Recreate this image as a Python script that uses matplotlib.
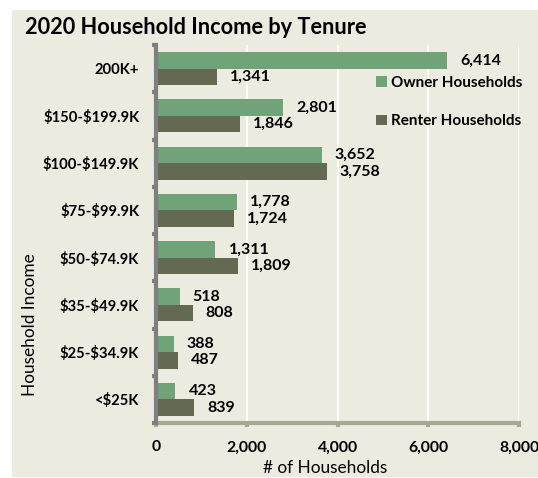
import matplotlib
matplotlib.use("Agg")
from matplotlib import pyplot as plt
from matplotlib.patches import Rectangle
from matplotlib.ticker import FuncFormatter

categories = ["200K+", "$150-$199.9K", "$100-$149.9K", "$75-$99.9K",
              "$50-$74.9K", "$35-$49.9K", "$25-$34.9K", "<$25K"]
owner = [6414, 2801, 3652, 1778, 1311, 518, 388, 423]
renter = [1341, 1846, 3758, 1724, 1809, 808, 487, 839]
x_ticks = [0, 2000, 4000, 6000, 8000]

bg = "#ebebdf"
owner_col = "#70a378"
renter_col = "#646a52"
W, H = 538, 478

plt.rcParams['font.family'] = ['Lato', 'DejaVu Sans']
plt.rcParams['text.parse_math'] = False  # "$" in labels is literal

fig = plt.figure(figsize=(W / 100, H / 100), dpi=100, facecolor="white")
# beige chart area behind everything
panel = Rectangle((12 / W, 1 / H), 1 - 12 / W, 1 - 11 / H,
                  transform=fig.transFigure, facecolor=bg,
                  edgecolor="none", zorder=-10)
fig.add_artist(panel)

ax = fig.add_axes([156 / W, 1 - 423 / H, (519 - 156) / W, (423 - 45) / H])
ax.set_zorder(1)
ax.set_facecolor(bg)

pos = list(range(len(categories)))
h = 0.35
b1 = ax.barh([p - h / 2 for p in pos], owner, height=h, color=owner_col,
             label="Owner Households", zorder=3)
b2 = ax.barh([p + h / 2 for p in pos], renter, height=h, color=renter_col,
             label="Renter Households", zorder=3)

for bars, vals in ((b1, owner), (b2, renter)):
    for r, v in zip(bars, vals):
        ax.annotate(f"{v:,}", (r.get_width(), r.get_y() + r.get_height() / 2),
                    xytext=(9.5, 0), textcoords="offset points",
                    ha="left", va="center", fontsize=11.5, fontweight="bold",
                    color="black", zorder=4)

ax.set_xlim(0, 8000)
ax.set_ylim(len(categories) - 0.5, -0.5)
ax.set_xticks(x_ticks)
ax.xaxis.set_major_formatter(FuncFormatter(lambda v, p: f"{int(v):,}"))
ax.set_yticks(pos)
ax.set_yticklabels(categories, fontsize=10.6, fontweight="bold")
ax.set_yticks([p + 0.5 for p in range(-1, len(categories))], minor=True)
for lab in ax.get_xticklabels():
    lab.set_fontsize(11.3)
    lab.set_fontweight("bold")

ax.tick_params(axis="y", which="major", length=0, pad=12)
ax.tick_params(axis="y", which="minor", length=3, width=3, color="#7f7f7f",
               direction="out")
ax.tick_params(axis="x", which="major", length=3, width=3, color="#a5a893",
               pad=9.5)

ax.grid(axis="x", color="white", linewidth=1.3, zorder=1)
ax.set_axisbelow(True)

for s in ("top", "right"):
    ax.spines[s].set_visible(False)
ax.spines["left"].set_color("#7f7f7f")
ax.spines["left"].set_linewidth(3)
ax.spines["left"].set_zorder(5)
ax.spines["bottom"].set_color("#a5a893")
ax.spines["bottom"].set_linewidth(3)

ax.set_xlabel("# of Households", fontsize=12.4)
ax.xaxis.set_label_coords((325 - 156) / 363, (423 - 460) / 378)
ax.set_ylabel("Household Income", fontsize=12.4)
ax.yaxis.set_label_coords((38 - 156) / 363, (423 - 325) / 378)

fig.text(25 / W, 1 - 28 / H, "2020 Household Income by Tenure",
         fontsize=15.7, fontweight="bold", ha="left", va="center")

leg = ax.legend(handles=[b1, b2], loc="upper left",
                bbox_to_anchor=(376 / W, 1 - 76 / H),
                bbox_transform=fig.transFigure, frameon=False,
                borderpad=0, borderaxespad=0, handlelength=0.7,
                handleheight=0.7, handletextpad=0.25, labelspacing=1.6,
                prop={"size": 11, "weight": "bold"})

fig.savefig("out.png", dpi=100, facecolor="white")
